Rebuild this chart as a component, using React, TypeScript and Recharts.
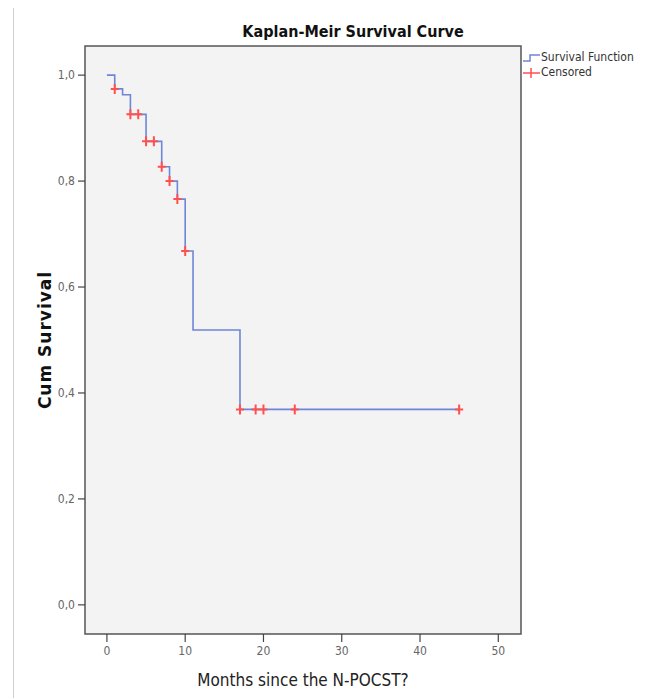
import React from 'react';
import {
  ComposedChart,
  Line,
  Scatter,
  XAxis,
  YAxis,
  CartesianGrid,
  ReferenceArea,
} from 'recharts';

// step points of the survival function (months, cum survival)
const stepTimes = [0, 1, 2, 3, 5, 7, 8, 9, 10, 11, 17, 45];
const stepSurvival = [1.0, 0.974, 0.963, 0.926, 0.875, 0.827, 0.8, 0.766, 0.668, 0.519, 0.369, 0.369];

// censored cases
const censorTimes = [1, 3, 4, 5, 6, 7, 8, 9, 10, 17, 19, 20, 24, 45];
const censorSurvival = [0.974, 0.926, 0.926, 0.875, 0.875, 0.827, 0.8, 0.766, 0.668, 0.369, 0.369, 0.369, 0.369, 0.369];

const xTicks = [0, 10, 20, 30, 40, 50];
const yTicks = [0, 0.2, 0.4, 0.6, 0.8, 1.0];

const steps = stepTimes.map((t, i) => ({ t, s: stepSurvival[i] }));
const censored = censorTimes.map((t, i) => ({ t, s: censorSurvival[i] }));

const FONT = '"DejaVu Sans Condensed", "DejaVu Sans", sans-serif';
const BLUE = '#6f86d6';
const RED = '#ff5050';

const X_MIN = -2.8;
const X_MAX = 52.9;
const Y_MIN = -0.055;
const Y_MAX = 1.055;

const Plus = (props: any) => {
  const { cx, cy } = props;
  if (cx == null || cy == null) return null;
  return (
    <path
      d={`M${cx - 4},${cy}H${cx + 4}M${cx},${cy - 5}V${cy + 5}`}
      stroke={RED}
      strokeWidth={2}
      fill="none"
    />
  );
};

const KmLegend = () => (
  <div style={{ fontFamily: FONT, fontSize: 12, color: '#333', lineHeight: '15px' }}>
    <div style={{ display: 'flex', alignItems: 'center' }}>
      <svg width={19} height={12}>
        <path d="M1,9H8V3H18" stroke={BLUE} strokeWidth={1.5} fill="none" />
      </svg>
      <span>Survival Function</span>
    </div>
    <div style={{ display: 'flex', alignItems: 'center' }}>
      <svg width={19} height={12}>
        <path d="M1,6H18M9,1V11" stroke={RED} strokeWidth={1.5} fill="none" />
      </svg>
      <span>Censored</span>
    </div>
  </div>
);

const App = () => {
  return (
    <div style={{ position: 'relative', width: 648, height: 690, background: '#fff' }}>
      <div style={{ position: 'absolute', left: 5, top: -8, width: 1, height: 698, background: '#cfcfcf' }} />
      <div
        style={{
          position: 'absolute',
          left: 195,
          top: 14,
          width: 300,
          textAlign: 'center',
          fontFamily: FONT,
          fontWeight: 'bold',
          fontSize: 16,
          color: '#111',
        }}
      >
        Kaplan-Meir Survival Curve
      </div>
      <div style={{ position: 'absolute', left: 514, top: 42, width: 134 }}>
        <KmLegend />
      </div>
      <ComposedChart
        width={648}
        height={690}
        margin={{ top: 38, right: 135, bottom: 34, left: 27 }}
      >
        <CartesianGrid horizontal={false} vertical={false} fill="#f3f3f3" fillOpacity={1} />
        <XAxis
          dataKey="t"
          type="number"
          domain={[X_MIN, X_MAX]}
          allowDataOverflow
          ticks={xTicks}
          height={30}
          axisLine={false}
          tickSize={8}
          tickMargin={4}
          tickLine={{ stroke: '#444', strokeWidth: 1.2 }}
          tick={{ fill: '#666', fontSize: 12, fontFamily: FONT }}
          label={{
            value: 'Months since the N-POCST?',
            position: 'bottom',
            offset: 10,
            style: { fontFamily: FONT, fontSize: 17, fill: '#222' },
          }}
        />
        <YAxis
          dataKey="s"
          type="number"
          domain={[Y_MIN, Y_MAX]}
          allowDataOverflow
          ticks={yTicks}
          width={50}
          axisLine={false}
          tickSize={7}
          tickMargin={3}
          tickLine={{ stroke: '#444', strokeWidth: 1.2 }}
          tick={{ fill: '#666', fontSize: 12, fontFamily: FONT }}
          tickFormatter={(v: number) => v.toFixed(1).replace('.', ',')}
          label={{
            value: 'Cum Survival',
            angle: -90,
            position: 'insideLeft',
            offset: 10,
            style: {
              textAnchor: 'middle',
              fontFamily: '"DejaVu Sans", sans-serif',
              fontWeight: 'bold',
              fontSize: 17,
              letterSpacing: 1,
              fill: '#111',
            },
          }}
        />
        <ReferenceArea
          x1={X_MIN}
          x2={X_MAX}
          y1={Y_MIN}
          y2={Y_MAX}
          fill="none"
          stroke="#555"
          strokeWidth={1.5}
        />
        <Line
          data={steps}
          dataKey="s"
          type="stepAfter"
          stroke={BLUE}
          strokeWidth={1.6}
          dot={false}
          isAnimationActive={false}
          name="Survival Function"
        />
        <Scatter
          data={censored}
          dataKey="s"
          shape={<Plus />}
          isAnimationActive={false}
          name="Censored"
        />
      </ComposedChart>
    </div>
  );
};

export default App;
